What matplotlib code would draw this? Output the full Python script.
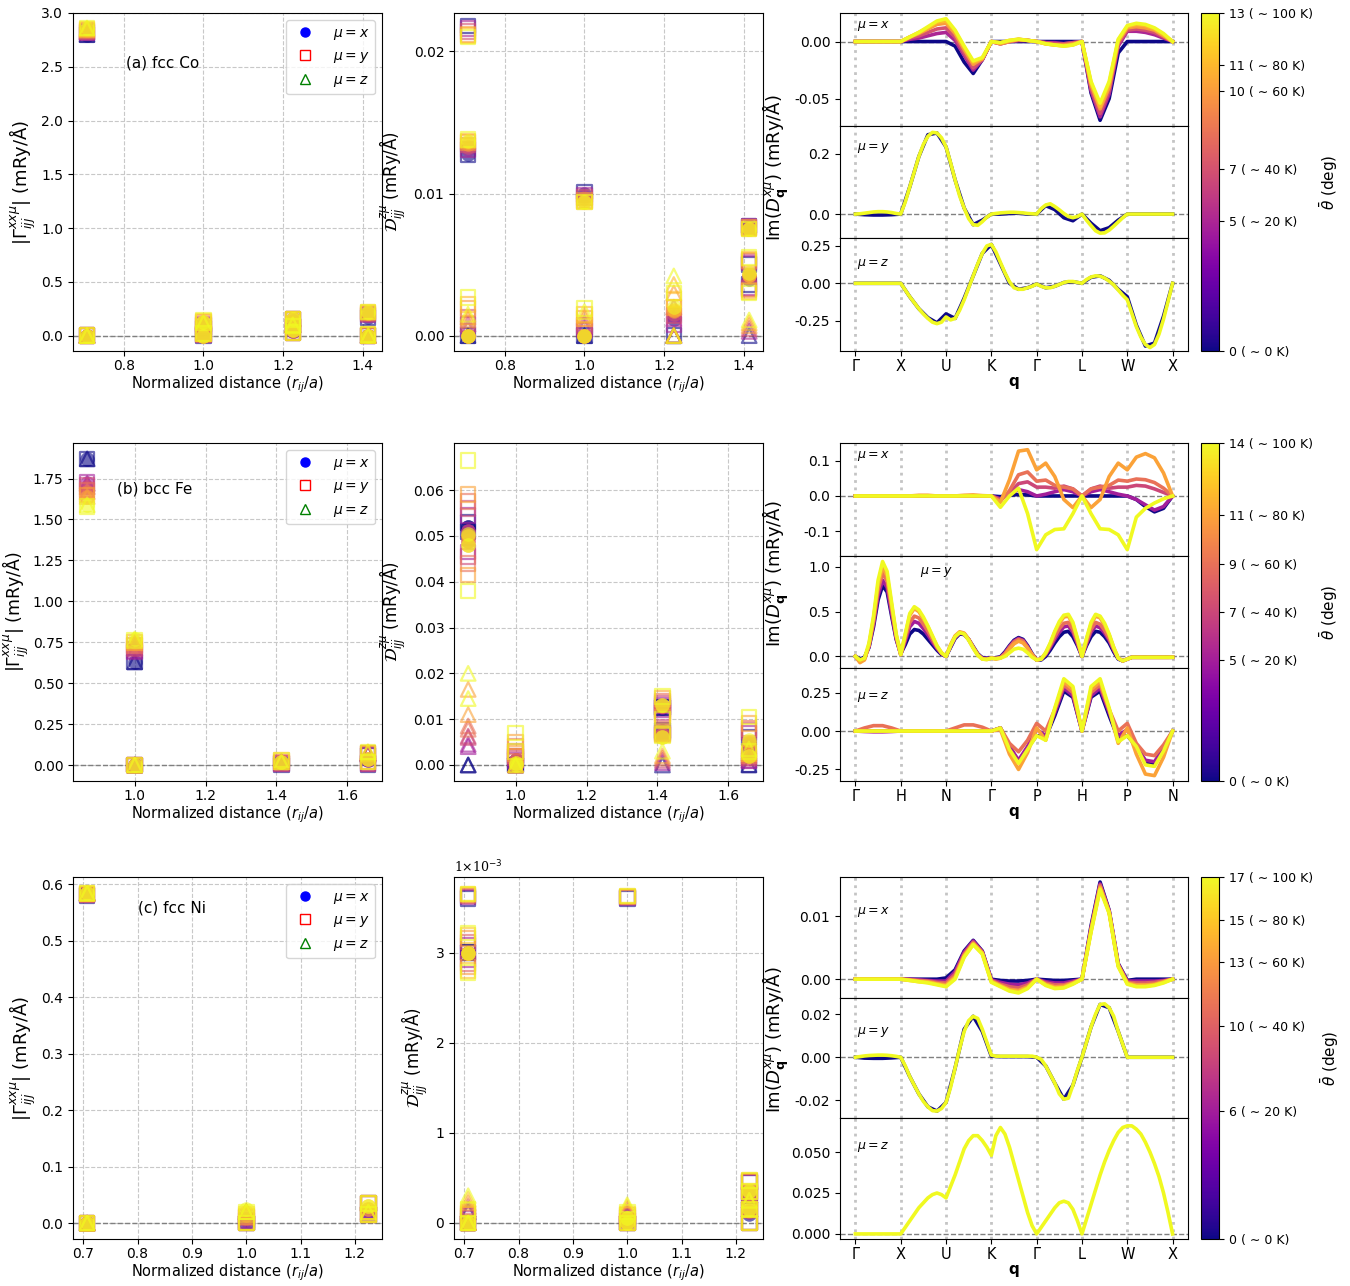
import numpy as np
import matplotlib.pyplot as plt
from matplotlib import colors
from matplotlib.cm import ScalarMappable
from matplotlib.lines import Line2D
from matplotlib.ticker import FormatStrFormatter

plt.rcParams['font.size'] = 10
plt.rcParams['mathtext.fontset'] = 'dejavusans'
plt.rcParams['xtick.major.pad'] = 2.2

# neighbour shells (r_ij / a)
R1, R2, R3, R4 = 0.7071, 1.0, 1.2247, 1.4142   # fcc
B1, B2, B3, B4 = 0.8660, 1.0, 1.4142, 1.6583   # bcc

# average cone angles of each set (deg)
co_theta = [0, 5, 7, 10, 11, 13]
fe_theta = [0, 5, 7, 9, 11, 14]
ni_theta = [0, 6, 10, 13, 15, 17]
co_ticklabels = ['0 ( ∼ 0 K)', '5 ( ∼ 20 K)', '7 ( ∼ 40 K)', '10 ( ∼ 60 K)', '11 ( ∼ 80 K)', '13 ( ∼ 100 K)']
fe_ticklabels = ['0 ( ∼ 0 K)', '5 ( ∼ 20 K)', '7 ( ∼ 40 K)', '9 ( ∼ 60 K)', '11 ( ∼ 80 K)', '14 ( ∼ 100 K)']
ni_ticklabels = ['0 ( ∼ 0 K)', '6 ( ∼ 20 K)', '10 ( ∼ 40 K)', '13 ( ∼ 60 K)', '15 ( ∼ 80 K)', '17 ( ∼ 100 K)']

# ---------------- real-space parameters: (shell, value for each theta) ----------------
co_gamma_x = [(R1, [2.80, 2.82, 2.83, 2.84, 2.85, 2.86]), (R1, [0, 0, 0, 0, 0, 0]),
              (R2, [0.07, 0.10, 0.11, 0.12, 0.125, 0.13]), (R2, [0, 0, 0, 0, 0, 0]),
              (R3, [0.14, 0.14, 0.15, 0.15, 0.15, 0.15]), (R3, [0.04, 0.04, 0.04, 0.05, 0.05, 0.05]),
              (R4, [0.17, 0.19, 0.20, 0.21, 0.21, 0.22]), (R4, [0, 0, 0, 0, 0, 0])]
co_gamma_y = [(R1, [2.80, 2.82, 2.83, 2.84, 2.85, 2.86]), (R1, [0, 0, 0, 0, 0, 0]),
              (R2, [0.07, 0.10, 0.11, 0.12, 0.13, 0.14]), (R2, [0.0, 0.01, 0.01, 0.02, 0.02, 0.02]),
              (R3, [0.15, 0.15, 0.15, 0.15, 0.15, 0.15]), (R3, [0.09, 0.09, 0.09, 0.09, 0.09, 0.09]),
              (R3, [0.03, 0.03, 0.03, 0.03, 0.03, 0.03]),
              (R4, [0.17, 0.19, 0.20, 0.21, 0.22, 0.22]), (R4, [0.0, 0.0, 0.0, 0.0, 0.01, 0.01])]
co_gamma_z = [(R1, [2.80, 2.82, 2.83, 2.84, 2.85, 2.86]), (R1, [0, 0, 0, 0, 0, 0]),
              (R2, [0.07, 0.09, 0.10, 0.11, 0.12, 0.12]), (R3, [0.10, 0.10, 0.10, 0.10, 0.10, 0.10]),
              (R4, [0, 0, 0, 0, 0, 0])]

co_dmi_x = [(R1, [0.0128, 0.0131, 0.0133, 0.0135, 0.0136, 0.0137]), (R1, [0, 0, 0, 0, 0, 0]),
            (R2, [0.0100, 0.0098, 0.0097, 0.0095, 0.0094, 0.0094]), (R2, [0, 0, 0, 0, 0, 0]),
            (R3, [0.0012, 0.0014, 0.0015, 0.0017, 0.0018, 0.0020]),
            (R4, [0.0077, 0.0076, 0.0076, 0.0075, 0.0075, 0.0075]),
            (R4, [0.0040, 0.0041, 0.0042, 0.0043, 0.0043, 0.0044])]
co_dmi_y = [(R1, [0.0218, 0.0216, 0.0214, 0.0212, 0.0211, 0.0210]),
            (R1, [0.0127, 0.0131, 0.0134, 0.0136, 0.0137, 0.0138]),
            (R1, [0.0, 0.0008, 0.0013, 0.0019, 0.0022, 0.0027]),
            (R2, [0.0101, 0.0099, 0.0097, 0.0095, 0.0094, 0.0094]),
            (R2, [0.0, 0.0004, 0.0007, 0.0012, 0.0015, 0.0019]),
            (R3, [0.0, 0.0008, 0.0014, 0.0020, 0.0025, 0.0030]),
            (R4, [0.0077, 0.0077, 0.0076, 0.0076, 0.0075, 0.0075]),
            (R4, [0.0050, 0.0051, 0.0052, 0.0053, 0.0054, 0.0055]),
            (R4, [0.0036, 0.0034, 0.0033, 0.0032, 0.0031, 0.0030])]
co_dmi_z = [(R1, [0.0, 0.0005, 0.0008, 0.0011, 0.0013, 0.0015]),
            (R2, [0.0, 0.0006, 0.0009, 0.0012, 0.0014, 0.0017]),
            (R3, [0.0, 0.0012, 0.0020, 0.0030, 0.0036, 0.0042]), (R3, [0, 0, 0, 0, 0, 0]),
            (R4, [0.0, 0.0003, 0.0005, 0.0007, 0.0009, 0.0011])]

fe_gamma_x = [(B1, [1.87, 1.72, 1.70, 1.67, 1.64, 1.59]),
              (B2, [0.63, 0.70, 0.72, 0.74, 0.75, 0.77]), (B2, [0, 0, 0, 0, 0, 0]),
              (B3, [0.01, 0.01, 0.02, 0.02, 0.02, 0.02]),
              (B4, [0.03, 0.03, 0.04, 0.04, 0.04, 0.04])]
fe_gamma_y = [(B1, [1.87, 1.73, 1.71, 1.68, 1.65, 1.58]),
              (B2, [0.63, 0.69, 0.71, 0.73, 0.75, 0.76]), (B2, [0, 0, 0, 0, 0, 0]),
              (B3, [0.0, 0.01, 0.01, 0.02, 0.03, 0.03]),
              (B4, [0.0, 0.01, 0.01, 0.02, 0.02, 0.02]), (B4, [0.06, 0.06, 0.07, 0.07, 0.07, 0.08])]
fe_gamma_z = [(B1, [1.87, 1.72, 1.70, 1.67, 1.64, 1.59]),
              (B2, [0.63, 0.70, 0.72, 0.74, 0.75, 0.77]), (B2, [0, 0, 0, 0, 0, 0]),
              (B3, [0.02, 0.02, 0.02, 0.02, 0.02, 0.02]),
              (B4, [0.07, 0.07, 0.07, 0.07, 0.08, 0.08])]

fe_dmi_x = [(B1, [0.052, 0.051, 0.051, 0.050, 0.050, 0.0505]),
            (B1, [0.052, 0.050, 0.049, 0.049, 0.048, 0.048]),
            (B2, [0, 0, 0, 0, 0, 0]), (B2, [0.001, 0.001, 0.001, 0.001, 0.0005, 0.0005]),
            (B3, [0.0075, 0.0070, 0.0068, 0.0065, 0.0062, 0.0060]),
            (B3, [0.0125, 0.0127, 0.0128, 0.0129, 0.0130, 0.0130]),
            (B4, [0.0040, 0.0042, 0.0045, 0.0048, 0.0050, 0.0055]),
            (B4, [0.002, 0.002, 0.002, 0.002, 0.002, 0.002])]
fe_dmi_y = [(B1, [0.053, 0.0545, 0.056, 0.0575, 0.059, 0.0665]),
            (B1, [0.051, 0.0465, 0.0455, 0.044, 0.0415, 0.038]),
            (B2, [0.0, 0.002, 0.003, 0.004, 0.005, 0.007]),
            (B2, [0.0, 0.001, 0.0015, 0.002, 0.0025, 0.003]),
            (B3, [0.0125, 0.0130, 0.0135, 0.0140, 0.0145, 0.0150]),
            (B3, [0.0125, 0.0120, 0.0115, 0.0110, 0.0105, 0.0100]),
            (B3, [0.0075, 0.0072, 0.0070, 0.0068, 0.0066, 0.0064]),
            (B4, [0.0060, 0.0070, 0.0075, 0.0080, 0.0090, 0.0105]),
            (B4, [0.0, 0.001, 0.0015, 0.002, 0.0025, 0.003])]
fe_dmi_z = [(B1, [0.0, 0.0045, 0.0063, 0.0085, 0.0110, 0.0145]),
            (B1, [0.0, 0.0040, 0.0060, 0.0078, 0.0165, 0.0200]),
            (B2, [0, 0, 0, 0, 0, 0]),
            (B3, [0.0, 0.0005, 0.001, 0.0015, 0.002, 0.003]),
            (B4, [0.0, 0.001, 0.0015, 0.002, 0.0025, 0.0035])]

ni_gamma_x = [(R1, [0.584, 0.584, 0.584, 0.584, 0.584, 0.584]), (R1, [0, 0, 0, 0, 0, 0]),
              (R2, [0.0, 0.005, 0.01, 0.015, 0.02, 0.025]),
              (R3, [0.02, 0.02, 0.025, 0.025, 0.03, 0.03])]
ni_gamma_y = [(R1, [0.580, 0.581, 0.582, 0.583, 0.584, 0.585]), (R1, [0, 0, 0, 0, 0, 0]),
              (R2, [0.0, 0.005, 0.01, 0.012, 0.015, 0.02]), (R2, [0, 0, 0, 0, 0, 0]),
              (R3, [0.015, 0.015, 0.015, 0.015, 0.015, 0.015]),
              (R3, [0.035, 0.035, 0.035, 0.035, 0.035, 0.035])]
ni_gamma_z = [(R1, [0.584, 0.584, 0.584, 0.584, 0.584, 0.584]), (R1, [0, 0, 0, 0, 0, 0]),
              (R2, [0.02, 0.02, 0.02, 0.02, 0.02, 0.02]),
              (R3, [0.02, 0.02, 0.02, 0.02, 0.02, 0.02])]

# fcc Ni DMI in units of 1e-3 mRy/A
ni_dmi_x = [(R1, [3.0, 3.0, 3.0, 3.0, 3.0, 3.0]), (R1, [0, 0, 0, 0, 0, 0]),
            (R2, [0, 0, 0, 0, 0, 0]), (R2, [0.05, 0.05, 0.05, 0.05, 0.05, 0.05]),
            (R3, [0.10, 0.12, 0.13, 0.14, 0.15, 0.15]), (R3, [0.30, 0.32, 0.33, 0.34, 0.35, 0.35])]
ni_dmi_y = [(R1, [3.60, 3.62, 3.63, 3.64, 3.65, 3.65]),
            (R1, [3.0, 3.08, 3.12, 3.16, 3.19, 3.22]), (R1, [3.0, 2.92, 2.88, 2.84, 2.80, 2.78]),
            (R1, [0.0, 0.05, 0.08, 0.10, 0.12, 0.15]), (R1, [0, 0, 0, 0, 0, 0]),
            (R2, [3.60, 3.61, 3.62, 3.62, 3.63, 3.63]),
            (R2, [0.0, 0.03, 0.06, 0.08, 0.10, 0.12]), (R2, [0, 0, 0, 0, 0, 0]),
            (R3, [0.45, 0.45, 0.46, 0.46, 0.47, 0.47]), (R3, [0.30, 0.32, 0.33, 0.34, 0.35, 0.35]),
            (R3, [0, 0, 0, 0, 0, 0]), (R3, [0.15, 0.15, 0.15, 0.15, 0.15, 0.15])]
ni_dmi_z = [(R1, [0.12, 0.15, 0.18, 0.22, 0.26, 0.30]), (R1, [0, 0, 0, 0, 0, 0]),
            (R2, [0.08, 0.10, 0.12, 0.15, 0.18, 0.20]),
            (R3, [0.25, 0.25, 0.25, 0.25, 0.25, 0.25])]

# ---------------- reciprocal space: Im(D_q) along the high-symmetry path ----------------
# each curve is sampled evenly from the first to the last path point
# (36 samples = step 0.2, 71 samples = step 0.1 in path units)
fcc_path = ['Γ', 'X', 'U', 'K', 'Γ', 'L', 'W', 'X']
bcc_path = ['Γ', 'H', 'N', 'Γ', 'P', 'H', 'P', 'N']

co_qx = {
    0: [0, 0, 0, 0, 0, 0, 0, 0, 0, 0, 0, -0.004, -0.018, -0.028, -0.016, 0, 0, 0, 0, 0, 0,
        0, 0, 0, 0, 0, -0.045, -0.069, -0.050, -0.010, 0, 0, 0, 0, 0, 0],
    5: [0, 0, 0, 0, 0, 0, 0.002, 0.003, 0.005, 0.007, 0.008, 0.001, -0.012, -0.025, -0.016, 0,
        -0.002, 0.0, 0.001, 0.001, 0, -0.001, -0.001, -0.002, -0.001, 0,
        -0.043, -0.066, -0.046, -0.004, 0.009, 0.009, 0.008, 0.006, 0.003, 0],
    7: [0, 0, 0, 0, 0, 0, 0.003, 0.005, 0.008, 0.011, 0.012, 0.004, -0.010, -0.023, -0.016, 0,
        -0.002, 0.0, 0.001, 0.001, 0, -0.001, -0.002, -0.002, -0.001, 0,
        -0.041, -0.063, -0.043, -0.002, 0.010, 0.011, 0.010, 0.008, 0.004, 0],
    10: [0, 0, 0, 0, 0, 0, 0.004, 0.007, 0.011, 0.015, 0.016, 0.007, -0.007, -0.020, -0.015, 0,
         -0.002, 0.0, 0.002, 0.001, 0, -0.002, -0.003, -0.003, -0.002, 0,
         -0.038, -0.059, -0.040, 0.0, 0.012, 0.013, 0.012, 0.010, 0.005, 0],
    11: [0, 0, 0, 0, 0, 0, 0.004, 0.008, 0.012, 0.017, 0.018, 0.009, -0.005, -0.018, -0.015, 0,
         -0.001, 0.001, 0.002, 0.001, 0, -0.002, -0.003, -0.004, -0.003, 0,
         -0.036, -0.057, -0.037, 0.001, 0.013, 0.015, 0.014, 0.011, 0.006, 0],
    13: [0, 0, 0, 0, 0, 0, 0.004, 0.008, 0.013, 0.018, 0.020, 0.010, -0.004, -0.017, -0.014, 0,
         -0.001, 0.001, 0.002, 0.001, 0, -0.002, -0.003, -0.004, -0.003, 0,
         -0.035, -0.054, -0.035, 0.002, 0.014, 0.016, 0.015, 0.012, 0.007, 0],
}
co_qy = {
    0: [0, -0.002, -0.003, -0.003, -0.002, 0, 0.09, 0.19, 0.262, 0.268, 0.222,
        0.113, 0.02, -0.035, -0.02, 0, 0.0, 0.002, 0.003, 0.0, 0, 0.028, 0.015, -0.012, -0.022, 0,
        -0.03, -0.055, -0.045, -0.02, 0, 0, 0, 0, 0, 0],
    13: [0, 0.001, 0.003, 0.005, 0.007, 0.008, 0.008, 0.007, 0.005, 0.002, 0,
         0.04, 0.09, 0.14, 0.19, 0.23, 0.257, 0.27, 0.268, 0.252, 0.222,
         0.17, 0.113, 0.06, 0.02, -0.015, -0.035, -0.037, -0.025, -0.01, 0.0,
         0.002, 0.004, 0.005, 0.006, 0.006, 0.005, 0.004, 0.002, 0.001, 0.0,
         0.018, 0.03, 0.034, 0.025, 0.014, 0.002, -0.008, -0.012, -0.008, 0.0,
         -0.02, -0.038, -0.055, -0.063, -0.062, -0.053, -0.04, -0.026, -0.012, 0.0,
         0, 0, 0, 0, 0, 0, 0, 0, 0, 0],
}
co_qz = {
    0: [0, 0, 0, 0, 0, 0, -0.09, -0.17, -0.23, -0.265, -0.205, -0.235, -0.10, 0.05, 0.20, 0.26,
        0.13, 0.0, -0.04, -0.03, -0.005, -0.03, -0.02, 0.005, 0.01, 0.0,
        0.04, 0.05, 0.02, -0.04, -0.09, -0.28, -0.42, -0.40, -0.22, 0],
    13: [0, 0, 0, 0, 0, 0, 0, 0, 0, 0, 0,
         -0.045, -0.09, -0.13, -0.17, -0.205, -0.235, -0.26, -0.27, -0.26, -0.225,
         -0.245, -0.235, -0.18, -0.11, -0.03, 0.05, 0.13, 0.2, 0.25, 0.26,
         0.21, 0.14, 0.07, 0.01, -0.03, -0.04, -0.04, -0.03, -0.02, -0.005,
         -0.02, -0.03, -0.03, -0.02, -0.008, 0.005, 0.012, 0.012, 0.006, 0.0,
         0.025, 0.042, 0.05, 0.048, 0.035, 0.015, -0.01, -0.045, -0.08, -0.11,
         -0.2, -0.29, -0.36, -0.41, -0.43, -0.41, -0.34, -0.24, -0.12, 0.0],
}

fe_qx = {
    0: [0, 0, 0, 0, 0, 0, 0, 0, 0, 0, 0, 0, 0, 0, 0, 0, -0.002, 0.002, 0.004, 0.003, 0,
        0, 0, 0, 0, 0, 0, 0, 0, 0, 0, -0.01, -0.03, -0.045, -0.035, 0],
    5: [0, 0, 0, 0, 0, 0, 0, 0, 0, 0, 0, 0, 0, 0, 0, 0, -0.008, 0.005, 0.018, 0.012, 0.0,
        0.005, 0.012, 0.018, 0.012, 0, 0.012, 0.018, 0.012, 0.005, 0.0, -0.01, -0.025, -0.04, -0.03, 0],
    7: [0, 0, 0, 0, 0, 0, 0, 0, 0, 0, 0, 0, 0, 0, 0, 0, -0.01, 0.008, 0.035, 0.04, 0.025,
        0.025, 0.022, 0.028, 0.02, 0, 0.02, 0.028, 0.022, 0.025, 0.025, 0.03, 0.028, 0.02, 0.01, 0],
    9: [0, 0, 0, 0, 0, 0, 0, 0, 0, 0, 0, 0, 0, 0, 0, 0, -0.015, 0.015, 0.06, 0.068, 0.042,
        0.045, 0.03, 0.025, 0.02, 0, 0.02, 0.025, 0.03, 0.045, 0.042, 0.048, 0.046, 0.038, 0.022, 0],
    11: [0, 0, 0, 0, 0, 0, 0, 0.002, 0.002, 0, 0, 0, 0.002, 0.003, 0.001, 0, -0.018, 0.046, 0.127, 0.131, 0.074,
         0.093, 0.055, -0.01, -0.033, 0, -0.033, -0.01, 0.055, 0.093, 0.074, 0.11, 0.12, 0.108, 0.065, 0],
    14: [0, 0, 0, 0, 0, 0, 0, 0, 0, 0, 0, 0, 0, 0, 0, 0, -0.032, 0.0, 0.022, -0.05, -0.152,
         -0.11, -0.095, -0.093, -0.05, 0, -0.05, -0.093, -0.095, -0.11, -0.152, -0.06, -0.035, -0.02, -0.008, 0],
}
fe_qy = {
    0: [0, -0.03, -0.01, 0.1, 0.33, 0.63, 0.79, 0.72, 0.45, 0.19, 0.03,
        0.13, 0.25, 0.3, 0.29, 0.25, 0.19, 0.13, 0.07, 0.02, 0.0,
        0.1, 0.2, 0.25, 0.245, 0.19, 0.11, 0.03, -0.015, -0.02, -0.02,
        -0.015, -0.005, 0.05, 0.12, 0.18, 0.21, 0.19, 0.12, 0.03, -0.04,
        -0.04, 0.0, 0.07, 0.15, 0.22, 0.27, 0.28, 0.22, 0.12, 0.0,
        0.12, 0.22, 0.28, 0.27, 0.22, 0.15, 0.05, -0.03, -0.05, -0.03,
        -0.01, -0.01, -0.01, -0.01, -0.01, -0.01, -0.01, -0.01, -0.01, -0.01],
    5: [0, -0.05, -0.02, 0.11, 0.36, 0.68, 0.85, 0.77, 0.48, 0.2, 0.02,
        0.17, 0.33, 0.39, 0.37, 0.31, 0.24, 0.16, 0.09, 0.03, 0.0,
        0.11, 0.21, 0.26, 0.25, 0.19, 0.1, 0.02, -0.02, -0.025, -0.02,
        -0.02, -0.01, 0.04, 0.11, 0.17, 0.2, 0.18, 0.11, 0.02, -0.04,
        -0.03, 0.02, 0.1, 0.19, 0.27, 0.33, 0.34, 0.27, 0.14, 0.0,
        0.14, 0.27, 0.34, 0.32, 0.26, 0.18, 0.07, -0.02, -0.05, -0.03,
        -0.01, -0.01, -0.01, -0.01, -0.01, -0.01, -0.01, -0.01, -0.01, -0.01],
    9: [0, -0.06, -0.03, 0.12, 0.39, 0.74, 0.93, 0.84, 0.53, 0.22, 0.02,
        0.2, 0.38, 0.45, 0.43, 0.36, 0.28, 0.19, 0.1, 0.035, 0.0,
        0.12, 0.22, 0.265, 0.255, 0.19, 0.1, 0.02, -0.025, -0.03, -0.02,
        -0.025, -0.015, 0.03, 0.1, 0.16, 0.19, 0.17, 0.1, 0.02, -0.04,
        -0.03, 0.03, 0.12, 0.22, 0.31, 0.37, 0.38, 0.3, 0.16, 0.0,
        0.16, 0.3, 0.38, 0.36, 0.29, 0.2, 0.08, -0.02, -0.05, -0.03,
        -0.01, -0.01, -0.01, -0.01, -0.01, -0.01, -0.01, -0.01, -0.01, -0.01],
    11: [0, -0.07, -0.04, 0.13, 0.42, 0.8, 1.0, 0.9, 0.57, 0.24, 0.02,
         0.24, 0.46, 0.535, 0.5, 0.42, 0.33, 0.22, 0.115, 0.04, 0.0,
         0.13, 0.23, 0.275, 0.26, 0.19, 0.1, 0.02, -0.03, -0.035, -0.02,
         -0.03, -0.02, 0.02, 0.08, 0.14, 0.17, 0.15, 0.09, 0.02, -0.04,
         -0.03, 0.04, 0.14, 0.27, 0.37, 0.44, 0.45, 0.36, 0.19, 0.0,
         0.19, 0.36, 0.45, 0.43, 0.35, 0.24, 0.1, -0.02, -0.05, -0.03,
         -0.012, -0.012, -0.012, -0.012, -0.012, -0.012, -0.012, -0.012, -0.012, -0.01],
    14: [0, -0.04, -0.02, 0.15, 0.45, 0.85, 1.06, 0.95, 0.6, 0.25, 0.02,
         0.25, 0.48, 0.555, 0.52, 0.44, 0.34, 0.23, 0.12, 0.04, 0.0,
         0.12, 0.22, 0.265, 0.25, 0.18, 0.09, 0.01, -0.03, -0.035, -0.02,
         -0.025, -0.02, 0.0, 0.04, 0.08, 0.092, 0.08, 0.04, -0.01, -0.04,
         -0.03, 0.04, 0.15, 0.28, 0.39, 0.46, 0.47, 0.38, 0.2, 0.0,
         0.2, 0.38, 0.47, 0.45, 0.37, 0.25, 0.1, -0.02, -0.05, -0.03,
         -0.01, -0.01, -0.01, -0.01, -0.01, -0.01, -0.01, -0.01, -0.01, -0.01],
}
fe_qz = {
    0: [0, 0, 0, 0, 0, 0, 0, 0, 0, 0, 0, 0, 0, 0, 0, 0, 0.02, -0.10, -0.20, -0.11, -0.03,
        -0.04, 0.10, 0.26, 0.22, 0.0, 0.22, 0.26, 0.10, -0.05, -0.03, -0.10, -0.20, -0.22, -0.12, 0.0],
    5: [0, -0.003, -0.005, -0.005, -0.003, 0, 0, 0, 0, 0, 0, 0, 0, 0, 0, 0, 0.02, -0.10, -0.19, -0.10, 0.01,
        -0.03, 0.12, 0.28, 0.23, 0.0, 0.23, 0.28, 0.12, -0.03, 0.01, -0.10, -0.19, -0.20, -0.11, 0.0],
    9: [0, 0.02, 0.035, 0.035, 0.02, 0, 0, 0, 0, 0, 0, 0.02, 0.04, 0.04, 0.025, 0.0,
        0.02, -0.08, -0.135, -0.06, 0.05, 0.0, 0.14, 0.30, 0.25, 0.0, 0.25, 0.30, 0.14, 0.0, 0.05,
        -0.08, -0.15, -0.16, -0.09, 0.0],
    11: [0, 0, 0, 0, 0, 0, 0, 0, 0, 0, 0, 0, 0, 0, 0, 0, 0.01, -0.15, -0.25, -0.14, 0.02,
         -0.06, 0.14, 0.32, 0.27, 0.0, 0.27, 0.32, 0.14, -0.08, 0.02, -0.15, -0.28, -0.29, -0.17, 0.0],
    14: [0, 0, 0, 0, 0, 0, 0, 0, 0, 0, 0, 0, 0, 0, 0, 0, 0.02, -0.12, -0.21, -0.12, -0.03,
         -0.06, 0.15, 0.34, 0.29, 0.0, 0.29, 0.34, 0.15, -0.07, -0.03, -0.10, -0.22, -0.23, -0.13, 0.0],
}

ni_qx = {
    0: [0, 0, 0, 0, 0, 0, 0, 0, 0, 0, 0.0002, 0.0015, 0.0045, 0.0062, 0.0045, 0.0,
        -0.0002, -0.0003, -0.0003, -0.0002, 0, -0.0001, -0.0002, -0.0002, -0.0001, 0,
        0.0085, 0.0155, 0.0110, 0.0025, -0.0002, 0, 0, 0, 0, 0],
    6: [0, 0, 0, 0, 0, 0, 0, -0.0001, -0.0002, -0.0003, -0.0003, 0.0012, 0.0043, 0.0061, 0.0044, -0.0001,
        -0.0005, -0.0008, -0.0009, -0.0006, 0, -0.0004, -0.0006, -0.0006, -0.0003, 0,
        0.0082, 0.0152, 0.0109, 0.0024, -0.0003, -0.0003, -0.0003, -0.0003, -0.0002, 0],
    10: [0, 0, 0, 0, 0, 0, -0.0001, -0.0002, -0.0003, -0.0005, -0.0006, 0.0008, 0.0040, 0.0059, 0.0043, -0.0002,
         -0.0008, -0.0012, -0.0014, -0.0009, 0, -0.0006, -0.0009, -0.0009, -0.0005, 0,
         0.0080, 0.0150, 0.0108, 0.0023, -0.0005, -0.0006, -0.0006, -0.0005, -0.0003, 0],
    13: [0, 0, 0, 0, 0, 0, -0.0001, -0.0003, -0.0004, -0.0007, -0.0009, 0.0004, 0.0038, 0.0057, 0.0042, -0.0003,
         -0.0010, -0.0016, -0.0018, -0.0012, 0, -0.0008, -0.0012, -0.0011, -0.0006, 0,
         0.0078, 0.0147, 0.0107, 0.0022, -0.0006, -0.0009, -0.0009, -0.0008, -0.0004, 0],
    15: [0, 0, 0, 0, 0, 0, -0.0002, -0.0004, -0.0005, -0.0008, -0.0011, 0.0002, 0.0036, 0.0056, 0.0041, -0.0004,
         -0.0011, -0.0018, -0.0020, -0.0014, 0, -0.0009, -0.0014, -0.0013, -0.0007, 0,
         0.0076, 0.0145, 0.0106, 0.0021, -0.0007, -0.0011, -0.0011, -0.0009, -0.0005, 0],
    17: [0, 0, 0, 0, 0, 0, -0.0002, -0.0004, -0.0006, -0.0009, -0.0012, 0.0, 0.0035, 0.0055, 0.0040, -0.0005,
         -0.0012, -0.0019, -0.0022, -0.0015, 0, -0.0010, -0.0015, -0.0014, -0.0008, 0,
         0.0075, 0.0143, 0.0105, 0.0020, -0.0008, -0.0012, -0.0012, -0.0010, -0.0006, 0],
}
ni_qy = {
    0: [0, -0.0004, -0.0005, -0.0005, -0.0003, 0, -0.009, -0.017, -0.023, -0.025, -0.021,
        -0.005, 0.013, 0.019, 0.012, 0.0005, 0.0003, 0.0003, 0.0003, 0.0003, 0,
        -0.004, -0.012, -0.0195, -0.013, 0, 0.014, 0.0245, 0.023, 0.012, 0, 0, 0, 0, 0, 0],
    17: [0, 0.0003, 0.0006, 0.0008, 0.0009, 0.001, 0.001, 0.0009, 0.0007, 0.0004, 0,
         -0.004, -0.009, -0.013, -0.017, -0.0205, -0.023, -0.0248, -0.025, -0.0238, -0.021,
         -0.014, -0.005, 0.004, 0.012, 0.017, 0.019, 0.018, 0.013, 0.007, 0.001,
         0.0005, 0.0005, 0.0005, 0.0005, 0.0005, 0.0005, 0.0005, 0.0005, 0.0005, 0.0,
         -0.001, -0.004, -0.008, -0.012, -0.017, -0.0195, -0.019, -0.013, -0.006, 0.0,
         0.007, 0.014, 0.02, 0.0245, 0.0248, 0.023, 0.019, 0.012, 0.006, 0.0,
         0, 0, 0, 0, 0, 0, 0, 0, 0, 0],
}
ni_qz = {
    17: [0, 0, 0, 0, 0, 0, 0, 0, 0, 0, 0,
         0.004, 0.008, 0.012, 0.016, 0.019, 0.022, 0.024, 0.025, 0.024, 0.022,
         0.029, 0.036, 0.044, 0.052, 0.057, 0.060, 0.060, 0.057, 0.053, 0.048,
         0.06, 0.065, 0.061, 0.053, 0.043, 0.033, 0.023, 0.013, 0.005, 0.0,
         0.004, 0.008, 0.012, 0.016, 0.019, 0.020, 0.019, 0.015, 0.008, 0.0,
         0.009, 0.018, 0.027, 0.036, 0.044, 0.051, 0.057, 0.062, 0.065, 0.066,
         0.066, 0.064, 0.061, 0.056, 0.05, 0.043, 0.035, 0.025, 0.013, 0.0],
}

cmap = plt.get_cmap('plasma')
FIG_W, FIG_H = 1350, 1286


def box(x0, y0, x1, y1):
    # pixel box measured from the top-left corner -> figure fraction rect
    return [x0 / FIG_W, 1 - y1 / FIG_H, (x1 - x0) / FIG_W, (y1 - y0) / FIG_H]


def scatter_panel(ax, thetas, data_x, data_y, data_z, xlim, ylim):
    norm = colors.Normalize(0, thetas[-1])
    for i, th in enumerate(thetas):
        c = cmap(norm(th))
        ax.scatter([r for r, v in data_x], [v[i] for r, v in data_x], s=110, marker='o',
                   color=c, alpha=0.6, linewidths=0, zorder=3)
        ax.scatter([r for r, v in data_y], [v[i] for r, v in data_y], s=110, marker='s',
                   facecolors='none', edgecolors=[c], linewidths=1.6, alpha=0.6, zorder=3)
        ax.scatter([r for r, v in data_z], [v[i] for r, v in data_z], s=110, marker='^',
                   facecolors='none', edgecolors=[c], linewidths=1.6, alpha=0.6, zorder=3)
    ax.axhline(0, color='gray', ls='--', lw=1, zorder=1)
    ax.grid(True, ls='--', color='#c8c8c8', lw=0.8)
    ax.set_axisbelow(True)
    ax.set_xlim(*xlim)
    ax.set_ylim(*ylim)
    ax.set_xlabel(r'Normalized distance ($r_{ij}/a$)', fontsize=10.5, labelpad=1)


def band_panels(fig, x0, x1, ys, thetas, curves, path, ylims, yticks, fmts, mu_pos):
    norm = colors.Normalize(0, thetas[-1])
    axes = []
    for k in range(3):
        ax = fig.add_axes(box(x0, ys[k], x1, ys[k + 1]))
        for xv in range(8):
            ax.axvline(xv, color='#c4c4c4', ls=':', lw=2, zorder=1)
        ax.axhline(0, color='gray', ls='--', lw=1, zorder=1)
        for th in sorted(curves[k]):
            vals = curves[k][th]
            ax.plot(np.linspace(0, 7, len(vals)), vals, color=cmap(norm(th)), lw=2.6,
                    zorder=2, solid_joinstyle='round')
        ax.set_xlim(-0.34, 7.34)
        ax.set_ylim(*ylims[k])
        ax.set_yticks(yticks[k])
        ax.yaxis.set_major_formatter(FormatStrFormatter(fmts[k]))
        ax.set_xticks(range(8))
        ax.text(mu_pos[k][0], mu_pos[k][1], [r'$\mu = x$', r'$\mu = y$', r'$\mu = z$'][k],
                transform=ax.transAxes, fontsize=9, va='center')
        if k < 2:
            ax.tick_params(axis='x', length=0, labelbottom=False)
        else:
            ax.set_xticklabels(path, fontsize=10.5)
            ax.set_xlabel(r'$\mathbf{q}$', fontsize=11, labelpad=1)
        axes.append(ax)
    return axes


def add_colorbar(fig, y0, y1, thetas, labels):
    cax = fig.add_axes(box(1201, y0, 1219, y1))
    sm = ScalarMappable(norm=colors.Normalize(0, thetas[-1]), cmap=cmap)
    cb = fig.colorbar(sm, cax=cax, ticks=thetas)
    cb.set_ticklabels(labels)
    cb.ax.tick_params(labelsize=9)
    cb.set_label(r'$\bar{\theta}$ (deg)', fontsize=11)
    cb.outline.set_linewidth(0.8)


def add_legend(ax):
    handles = [Line2D([], [], ls='', marker='o', color='blue', ms=6.5),
               Line2D([], [], ls='', marker='s', mfc='none', mec='red', ms=7),
               Line2D([], [], ls='', marker='^', mfc='none', mec='green', ms=7)]
    ax.legend(handles, [r'$\mu = x$', r'$\mu = y$', r'$\mu = z$'], loc='upper right',
              fontsize=10, handletextpad=1.0, labelspacing=0.55)


fig = plt.figure(figsize=(13.5, 12.86), dpi=100)

gamma_label = r'$|\Gamma_{ijj}^{xx\mu}|$ (mRy/Å)'
dmi_label = r'$\mathcal{D}_{ijj}^{z\mu}$ (mRy/Å)'
band_label = r'Im$(D_{\mathbf{q}}^{x\mu})$ (mRy/Å)'

# ---------------- (a) fcc Co ----------------
ax = fig.add_axes(box(73, 13, 382, 351))
scatter_panel(ax, co_theta, co_gamma_x, co_gamma_y, co_gamma_z, (0.672, 1.449), (-0.143, 3.0))
ax.set_ylabel(gamma_label, fontsize=13, labelpad=2)
ax.text(0.17, 0.852, '(a) fcc Co', transform=ax.transAxes, fontsize=11, va='center')
add_legend(ax)

ax = fig.add_axes(box(454, 13, 763, 351))
scatter_panel(ax, co_theta, co_dmi_x, co_dmi_y, co_dmi_z, (0.672, 1.449), (-0.00108, 0.0227))
ax.set_yticks([0, 0.01, 0.02])
ax.yaxis.set_major_formatter(FormatStrFormatter('%.2f'))
ax.set_ylabel(dmi_label, fontsize=12)

band_panels(fig, 840, 1188, [13, 126, 238, 351], co_theta, [co_qx, co_qy, co_qz], fcc_path,
            [(-0.074, 0.025), (-0.079, 0.291), (-0.453, 0.303)],
            [[-0.05, 0.0], [0.0, 0.2], [-0.25, 0.0, 0.25]], ['%.2f', '%.1f', '%.2f'],
            [(0.05, 0.885), (0.05, 0.80), (0.05, 0.77)])
fig.text(776 / FIG_W, 1 - 168 / FIG_H, band_label, rotation=90, fontsize=13, ha='center', va='center')
add_colorbar(fig, 13, 351, co_theta, co_ticklabels)

# ---------------- (b) bcc Fe ----------------
ax = fig.add_axes(box(73, 443, 382, 781))
scatter_panel(ax, fe_theta, fe_gamma_x, fe_gamma_y, fe_gamma_z, (0.826, 1.698), (-0.097, 1.967))
ax.set_yticks([0, 0.25, 0.5, 0.75, 1.0, 1.25, 1.5, 1.75])
ax.yaxis.set_major_formatter(FormatStrFormatter('%.2f'))
ax.set_ylabel(gamma_label, fontsize=12.5, labelpad=1)
ax.text(0.143, 0.863, '(b) bcc Fe', transform=ax.transAxes, fontsize=11, va='center')
add_legend(ax)

ax = fig.add_axes(box(454, 443, 763, 781))
scatter_panel(ax, fe_theta, fe_dmi_x, fe_dmi_y, fe_dmi_z, (0.826, 1.698), (-0.0035, 0.0703))
ax.set_yticks([0, 0.01, 0.02, 0.03, 0.04, 0.05, 0.06])
ax.yaxis.set_major_formatter(FormatStrFormatter('%.2f'))
ax.set_ylabel(dmi_label, fontsize=12)

band_panels(fig, 840, 1188, [443, 556, 668, 781], fe_theta, [fe_qx, fe_qy, fe_qz], bcc_path,
            [(-0.170, 0.150), (-0.13, 1.122), (-0.325, 0.41)],
            [[-0.1, 0.0, 0.1], [0.0, 0.5, 1.0], [-0.25, 0.0, 0.25]], ['%.1f', '%.1f', '%.2f'],
            [(0.05, 0.885), (0.23, 0.86), (0.05, 0.74)])
fig.text(776 / FIG_W, 1 - 574 / FIG_H, band_label, rotation=90, fontsize=13, ha='center', va='center')
add_colorbar(fig, 443, 781, fe_theta, fe_ticklabels)

# ---------------- (c) fcc Ni ----------------
ax = fig.add_axes(box(73, 877, 382, 1239))
scatter_panel(ax, ni_theta, ni_gamma_x, ni_gamma_y, ni_gamma_z, (0.681, 1.250), (-0.028, 0.613))
ax.set_xticks([0.7, 0.8, 0.9, 1.0, 1.1, 1.2])
ax.set_ylabel(gamma_label, fontsize=13, labelpad=2)
ax.text(0.21, 0.914, '(c) fcc Ni', transform=ax.transAxes, fontsize=11, va='center')
add_legend(ax)

ax = fig.add_axes(box(454, 877, 763, 1239))
scatter_panel(ax, ni_theta, ni_dmi_x, ni_dmi_y, ni_dmi_z, (0.681, 1.250), (-0.18, 3.84))
ax.set_xticks([0.7, 0.8, 0.9, 1.0, 1.1, 1.2])
ax.set_yticks([0, 1, 2, 3])
ax.set_ylabel(dmi_label, fontsize=12)
ax.text(0.0, 1.004, r'1$\times$10$^{-3}$', transform=ax.transAxes, fontsize=9,
        family='DejaVu Serif', va='bottom', ha='left')

band_panels(fig, 840, 1188, [877, 998, 1118, 1239], ni_theta, [ni_qx, ni_qy, ni_qz], fcc_path,
            [(-0.003, 0.0163), (-0.0282, 0.0275), (-0.0031, 0.0708)],
            [[0.0, 0.01], [-0.02, 0.0, 0.02], [0.0, 0.025, 0.05]], ['%.2f', '%.2f', '%.3f'],
            [(0.05, 0.71), (0.05, 0.72), (0.05, 0.76)])
fig.text(776 / FIG_W, 1 - 1040 / FIG_H, band_label, rotation=90, fontsize=13, ha='center', va='center')
add_colorbar(fig, 877, 1239, ni_theta, ni_ticklabels)

fig.savefig('out.png', dpi=100)
